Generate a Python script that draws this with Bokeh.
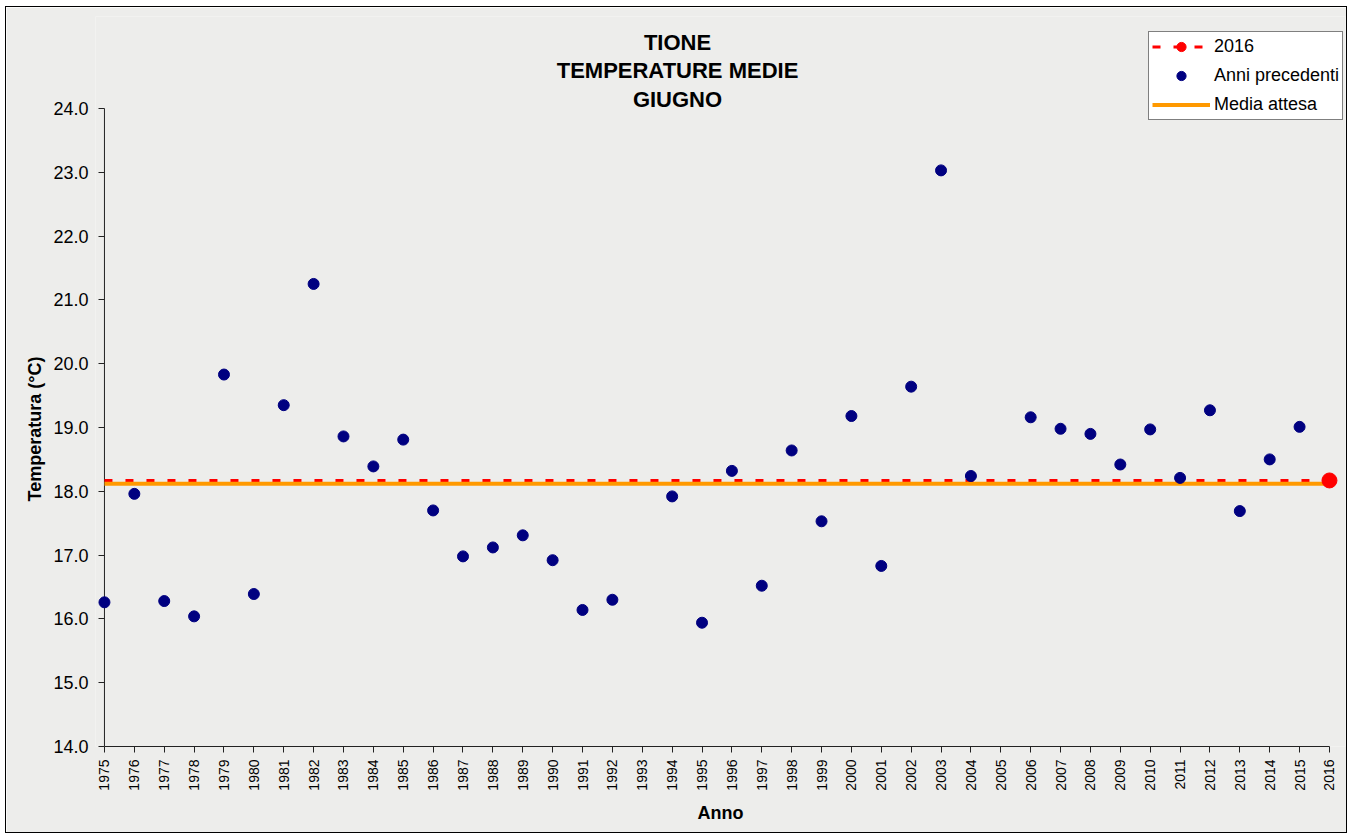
import math
from bokeh.plotting import figure
from bokeh.models import (Range1d, FixedTicker, PrintfTickFormatter, Legend,
                          LegendItem, Label, ColumnDataSource)
from bokeh.embed import file_html
from bokeh.resources import INLINE

# ---------------- data ----------------
years = [1975, 1976, 1977, 1978, 1979, 1980, 1981, 1982, 1983, 1984,
         1985, 1986, 1987, 1988, 1989, 1990, 1991, 1992, 1993, 1994,
         1995, 1996, 1997, 1998, 1999, 2000, 2001, 2002, 2003, 2004,
         2005, 2006, 2007, 2008, 2009, 2010, 2011, 2012, 2013, 2014, 2015]
temps = [16.26, 17.96, 16.28, 16.04, 19.83, 16.39, 19.35, 21.25, 18.86, 18.39,
         18.81, 17.70, 16.98, 17.12, 17.31, 16.92, 16.14, 16.30, None, 17.92,
         15.94, 18.32, 16.52, 18.64, 17.53, 19.18, 16.83, 19.64, 23.03, 18.24,
         None, 19.16, 18.98, 18.90, 18.42, 18.97, 18.21, 19.27, 17.69, 18.50, 19.01]
year_current = 2016
temp_current = 18.17
media_attesa = 18.12

x_ticks = years + [year_current]
y_ticks = [14, 15, 16, 17, 18, 19, 20, 21, 22, 23, 24]
title_lines = ["TIONE", "TEMPERATURE MEDIE", "GIUGNO"]
legend_labels = ["2016", "Anni precedenti", "Media attesa"]
x_label = "Anno"
y_label = "Temperatura (°C)"

FONT = "Liberation Sans"
BG = "#ededeb"
AXIS = "#222222"

# frame extends above the y axis so that title and legend are not clipped
p = figure(frame_width=1250, frame_height=730,
           min_border_left=89, min_border_right=1,
           min_border_top=9, min_border_bottom=86,
           x_range=Range1d(1974.7, 2016.537), y_range=Range1d(14, 25.442),
           output_backend="svg", toolbar_location=None,
           background_fill_color=BG, border_fill_color=BG)
p.outline_line_color = None
p.grid.visible = False
p.styles = {"border": "1px solid #000000", "margin-left": "5px", "margin-top": "6px"}

# x axis
xa = p.xaxis[0]
xa.ticker = FixedTicker(ticks=x_ticks)
xa.bounds = (x_ticks[0], x_ticks[-1])
xa.major_label_orientation = math.pi / 2
xa.major_label_text_font = FONT
xa.major_label_text_font_size = "14px"
xa.major_label_text_color = "#000000"
xa.major_label_standoff = 7
xa.major_tick_out = 6
xa.major_tick_in = 0
xa.minor_tick_out = 0
xa.minor_tick_in = 0
xa.axis_line_color = AXIS
xa.major_tick_line_color = AXIS
xa.axis_label = x_label
xa.axis_label_text_font = FONT
xa.axis_label_text_font_size = "18px"
xa.axis_label_text_font_style = "bold"
xa.axis_label_text_color = "#000000"
xa.axis_label_standoff = 9

# y axis (its line is drawn at the first year below)
ya = p.yaxis[0]
ya.ticker = FixedTicker(ticks=y_ticks)
ya.bounds = (y_ticks[0], y_ticks[-1])
ya.formatter = PrintfTickFormatter(format="%.1f")
ya.major_label_text_font = FONT
ya.major_label_text_font_size = "18px"
ya.major_label_text_color = "#000000"
ya.major_label_standoff = 7
ya.major_tick_out = -3
ya.major_tick_in = 9
ya.minor_tick_out = 0
ya.minor_tick_in = 0
ya.axis_line_color = None
ya.major_tick_line_color = AXIS
# trailing no-break spaces keep the label centred on the 14-24 span
ya.axis_label = y_label + "\u00a0" * 19
ya.axis_label_text_font = FONT
ya.axis_label_text_font_size = "18px"
ya.axis_label_text_font_style = "bold"
ya.axis_label_text_color = "#000000"
ya.axis_label_standoff = 5

p.line(x=[x_ticks[0], x_ticks[0]], y=[y_ticks[0], y_ticks[-1]],
       line_color=AXIS, line_width=1)

# ---------------- marks ----------------
r_red_line = p.line(x=[x_ticks[0], year_current], y=[temp_current, temp_current],
                    line_color="#ff0000", line_width=3, line_dash="8 13")
r_orange = p.line(x=[x_ticks[0], year_current], y=[media_attesa, media_attesa],
                  line_color="#ff9900", line_width=4)

px = [yr for yr, t in zip(years, temps) if t is not None]
py = [t for t in temps if t is not None]
src = ColumnDataSource(data=dict(x=px, y=py))
r_dots = p.scatter("x", "y", source=src, size=11,
                   fill_color="#000080", line_color="#000080")
r_red_dot = p.scatter(x=[year_current], y=[temp_current], size=15,
                      fill_color="#ff0000", line_color="#ff0000")

legend = Legend(items=[
    LegendItem(label=legend_labels[0], renderers=[r_red_line, r_red_dot]),
    LegendItem(label=legend_labels[1], renderers=[r_dots]),
    LegendItem(label=legend_labels[2], renderers=[r_orange]),
], location=(1053, 626))
legend.label_text_font = FONT
legend.label_text_font_size = "18px"
legend.label_text_color = "#000000"
legend.glyph_width = 58
legend.glyph_height = 23
legend.label_height = 23
legend.spacing = 6
legend.padding = 3
legend.margin = 0
legend.label_standoff = 4
legend.border_line_color = "#000000"
legend.border_line_width = 1
legend.background_fill_color = "#ffffff"
legend.background_fill_alpha = 1.0
p.add_layout(legend)

# title lines (screen units relative to the frame's bottom-left corner)
title_y = [704.2, 675.7, 647.2]
for txt, ty in zip(title_lines, title_y):
    p.add_layout(Label(x=582, y=ty, x_units="screen", y_units="screen", text=txt,
                       text_align="center", text_baseline="alphabetic",
                       text_font=FONT, text_font_size="22px",
                       text_font_style="bold", text_color="#000000"))

open("out.html", "w").write(file_html(p, INLINE))
